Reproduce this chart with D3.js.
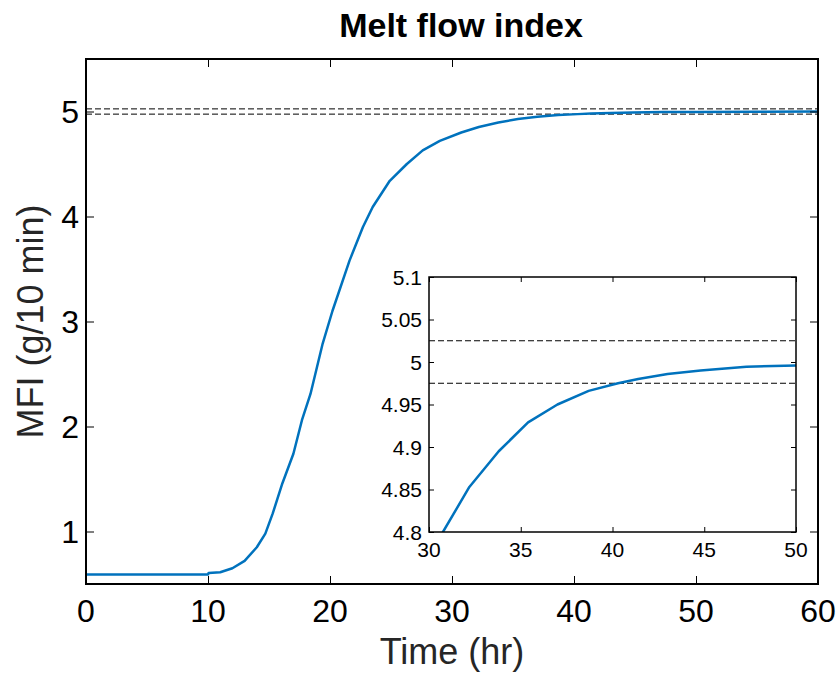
<!DOCTYPE html>
<html>
<head>
<meta charset="utf-8">
<script src="https://cdn.jsdelivr.net/npm/d3@7"></script>
<style>
  body { margin: 0; background: #fff; }
  svg text { font-family: "Liberation Sans", Arial, sans-serif; }
</style>
</head>
<body>
<div id="chart"></div>
<script>
// data
var timeHr = [0, 10, 10.05, 11, 12, 13, 14, 14.7, 15.3, 16.1, 17.0, 17.7, 18.4, 19.4, 20.2,
  21.6, 22.7, 23.5, 24.9, 26.3, 27.6, 29.0, 30.76, 32.2, 33.8, 35.4, 37.0, 38.7, 40.3,
  41.4, 43.0, 44.8, 47.3, 50, 55, 60];
var mfi = [0.59, 0.59, 0.605, 0.612, 0.65, 0.72, 0.85, 0.98, 1.17, 1.46, 1.74, 2.06, 2.31, 2.79, 3.10,
  3.58, 3.90, 4.09, 4.34, 4.50, 4.63, 4.72, 4.80, 4.853, 4.895, 4.929, 4.950, 4.966, 4.975,
  4.980, 4.986, 4.990, 4.9945, 4.996, 4.998, 4.999];
var bounds = [5.025, 4.975];
var mainXTicks = [0, 10, 20, 30, 40, 50, 60];
var mainYTicks = [1, 2, 3, 4, 5];
var insetXTicks = [30, 35, 40, 45, 50];
var insetYTicks = [4.8, 4.85, 4.9, 4.95, 5, 5.05, 5.1];

var W = 838, H = 673;
var svg = d3.select("#chart").append("svg")
  .attr("width", W).attr("height", H);

var lineColor = "#0072BD";

// main axes box
var m = {left: 86, right: 818, top: 59, bottom: 584};
var x = d3.scaleLinear().domain([0, 60]).range([m.left, m.right]);
var y = d3.scaleLinear().domain([0.5, 5.5]).range([m.bottom, m.top]);

svg.append("defs").append("clipPath").attr("id", "clipMain")
  .append("rect").attr("x", m.left).attr("y", m.top)
  .attr("width", m.right - m.left).attr("height", m.bottom - m.top);

var pts = timeHr.map(function(t, i) { return [t, mfi[i]]; });

var gMain = svg.append("g");
gMain.append("g").attr("clip-path", "url(#clipMain)")
  .selectAll("line.bound")
  .data(bounds).enter().append("line")
  .attr("x1", x(0)).attr("x2", x(60))
  .attr("y1", function(d) { return y(d); }).attr("y2", function(d) { return y(d); })
  .attr("stroke", "#000").attr("stroke-width", 1).attr("stroke-dasharray", "6,3");

var lineMain = d3.line().x(function(d) { return x(d[0]); }).y(function(d) { return y(d[1]); });
gMain.append("path").datum(pts)
  .attr("clip-path", "url(#clipMain)")
  .attr("d", lineMain)
  .attr("fill", "none").attr("stroke", lineColor).attr("stroke-width", 2.5)
  .attr("stroke-linejoin", "round");

// axes with inward ticks on all sides
gMain.append("g").attr("transform", "translate(0," + m.bottom + ")")
  .call(d3.axisTop(x).tickValues(mainXTicks).tickSize(8).tickFormat(""));
gMain.append("g").attr("transform", "translate(0," + m.top + ")")
  .call(d3.axisBottom(x).tickValues(mainXTicks).tickSize(8).tickFormat(""));
gMain.append("g").attr("transform", "translate(" + m.left + ",0)")
  .call(d3.axisRight(y).tickValues(mainYTicks).tickSize(8).tickFormat(""));
gMain.append("g").attr("transform", "translate(" + m.right + ",0)")
  .call(d3.axisLeft(y).tickValues(mainYTicks).tickSize(8).tickFormat(""));
gMain.selectAll(".domain").remove();
gMain.selectAll(".tick line").attr("stroke", "#000").attr("stroke-width", 1);

gMain.append("rect")
  .attr("x", m.left).attr("y", m.top)
  .attr("width", m.right - m.left).attr("height", m.bottom - m.top)
  .attr("fill", "none").attr("stroke", "#000").attr("stroke-width", 2);

gMain.selectAll("text.xt").data(mainXTicks).enter().append("text")
  .attr("x", function(d) { return x(d); }).attr("y", 622)
  .attr("text-anchor", "middle").attr("font-size", 32).attr("fill", "#000")
  .text(function(d) { return d; });
gMain.selectAll("text.yt").data(mainYTicks).enter().append("text")
  .attr("x", 79).attr("y", function(d) { return y(d) + 11.5; })
  .attr("text-anchor", "end").attr("font-size", 32).attr("fill", "#000")
  .text(function(d) { return d; });

svg.append("text").attr("x", 452).attr("y", 664)
  .attr("text-anchor", "middle").attr("font-size", 36).attr("fill", "#262626")
  .text("Time (hr)");
svg.append("text")
  .attr("transform", "translate(43," + ((m.top + m.bottom) / 2) + ") rotate(-90)")
  .attr("text-anchor", "middle").attr("font-size", 36).attr("fill", "#262626")
  .text("MFI (g/10 min)");
svg.append("text").attr("x", 461).attr("y", 37)
  .attr("text-anchor", "middle").attr("font-size", 34).attr("font-weight", "bold")
  .attr("fill", "#000")
  .text("Melt flow index");

// inset zoom
var n = {left: 429, right: 796, top: 277, bottom: 532};
var xi = d3.scaleLinear().domain([30, 50]).range([n.left, n.right]);
var yi = d3.scaleLinear().domain([4.8, 5.1]).range([n.bottom, n.top]);

svg.select("defs").append("clipPath").attr("id", "clipInset")
  .append("rect").attr("x", n.left).attr("y", n.top)
  .attr("width", n.right - n.left).attr("height", n.bottom - n.top);

var gIn = svg.append("g");
gIn.append("rect")
  .attr("x", n.left).attr("y", n.top)
  .attr("width", n.right - n.left).attr("height", n.bottom - n.top)
  .attr("fill", "#fff");

gIn.append("g").attr("clip-path", "url(#clipInset)")
  .selectAll("line")
  .data(bounds).enter().append("line")
  .attr("x1", n.left).attr("x2", n.right)
  .attr("y1", function(d) { return yi(d); }).attr("y2", function(d) { return yi(d); })
  .attr("stroke", "#000").attr("stroke-width", 1).attr("stroke-dasharray", "6,3");

var lineIn = d3.line().x(function(d) { return xi(d[0]); }).y(function(d) { return yi(d[1]); });
gIn.append("path").datum(pts)
  .attr("clip-path", "url(#clipInset)")
  .attr("d", lineIn)
  .attr("fill", "none").attr("stroke", lineColor).attr("stroke-width", 2.5)
  .attr("stroke-linejoin", "round");

gIn.append("g").attr("transform", "translate(0," + n.bottom + ")")
  .call(d3.axisTop(xi).tickValues(insetXTicks).tickSize(5).tickFormat(""));
gIn.append("g").attr("transform", "translate(0," + n.top + ")")
  .call(d3.axisBottom(xi).tickValues(insetXTicks).tickSize(5).tickFormat(""));
gIn.append("g").attr("transform", "translate(" + n.left + ",0)")
  .call(d3.axisRight(yi).tickValues(insetYTicks).tickSize(5).tickFormat(""));
gIn.append("g").attr("transform", "translate(" + n.right + ",0)")
  .call(d3.axisLeft(yi).tickValues(insetYTicks).tickSize(5).tickFormat(""));
gIn.selectAll(".domain").remove();
gIn.selectAll(".tick line").attr("stroke", "#000").attr("stroke-width", 1);

gIn.append("rect")
  .attr("x", n.left).attr("y", n.top)
  .attr("width", n.right - n.left).attr("height", n.bottom - n.top)
  .attr("fill", "none").attr("stroke", "#000").attr("stroke-width", 1.5);

gIn.selectAll("text.xt").data(insetXTicks).enter().append("text")
  .attr("x", function(d) { return xi(d); }).attr("y", 557)
  .attr("text-anchor", "middle").attr("font-size", 21).attr("fill", "#000")
  .text(function(d) { return d; });
gIn.selectAll("text.yt").data(insetYTicks).enter().append("text")
  .attr("x", 422).attr("y", function(d) { return yi(d) + 7.5; })
  .attr("text-anchor", "end").attr("font-size", 21).attr("fill", "#000")
  .text(function(d) { return d; });
</script>
</body>
</html>
